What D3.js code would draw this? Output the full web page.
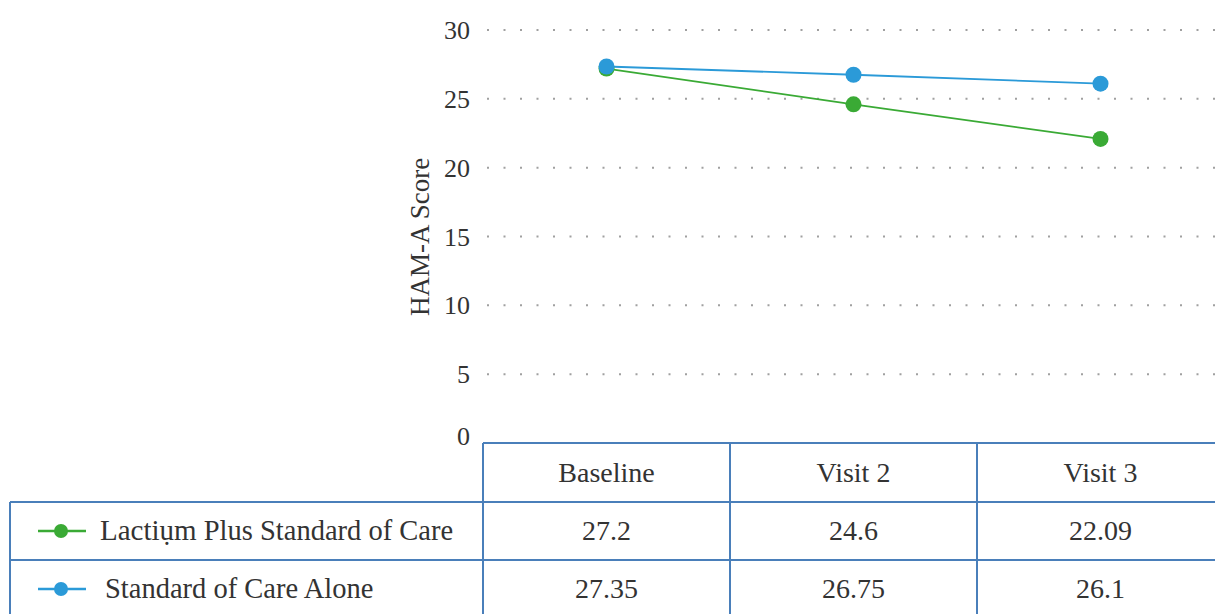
<!DOCTYPE html>
<html>
<head>
<meta charset="utf-8">
<script src="https://cdn.jsdelivr.net/npm/d3@7"></script>
<style>
  html, body { margin: 0; padding: 0; background: #fff; }
  svg { display: block; }
</style>
</head>
<body>
<svg id="chart" width="1215" height="614"></svg>
<script>
// Visits on the x axis
const visits = ["Baseline", "Visit 2", "Visit 3"];
// Series names and mean HAM-A scores per visit
const seriesNames = ["Lactiụm Plus Standard of Care", "Standard of Care Alone"];
const lactiumValues = [27.2, 24.6, 22.09];
const socValues = [27.35, 26.75, 26.1];
const valueLabels = [["27.2", "24.6", "22.09"], ["27.35", "26.75", "26.1"]];
const yTicks = [0, 5, 10, 15, 20, 25, 30];

const colors = ["#3aaa35", "#2b9ad8"];
const series = [lactiumValues, socValues];
const SERIF = "Liberation Serif, DejaVu Serif, serif";
const ink = "#333";

const svg = d3.select("#chart").attr("font-family", SERIF);
const W = 1215, H = 614;

const plotLeft = 483, colW = 247;
const x = d3.scaleBand().domain(visits).range([plotLeft, plotLeft + colW * visits.length]);
const y = d3.scaleLinear().domain([0, 30]).range([443, 30]);

// dotted horizontal gridlines
svg.append("g").selectAll("line")
  .data(yTicks.filter(d => d > 0))
  .join("line")
  .attr("x1", plotLeft + 4).attr("x2", W)
  .attr("y1", d => y(d)).attr("y2", d => y(d))
  .attr("stroke", "#a0a0a0").attr("stroke-width", 2)
  .attr("stroke-dasharray", "2,14.5");

// y axis labels
const yAxis = d3.axisLeft(y).tickValues(yTicks).tickSize(0).tickPadding(0);
const ya = svg.append("g").attr("transform", `translate(${plotLeft - 13},0)`).call(yAxis);
ya.attr("font-family", SERIF).attr("font-size", 26);
ya.select(".domain").remove();
ya.selectAll("text").attr("fill", ink).attr("dy", "0.33em");
ya.selectAll(".tick").filter(d => d === 0).select("text").attr("dy", "0.05em");

svg.append("text")
  .attr("transform", `translate(${429},${237}) rotate(-90)`)
  .attr("text-anchor", "middle")
  .attr("font-family", SERIF)
  .attr("font-size", 27).attr("fill", ink)
  .text("HAM-A Score");

// lines and markers
const line = d3.line().x((d, i) => x(visits[i]) + x.bandwidth() / 2).y(d => y(d));
series.forEach((vals, s) => {
  svg.append("path").datum(vals)
    .attr("d", line).attr("fill", "none")
    .attr("stroke", colors[s]).attr("stroke-width", 1.8);
});
series.forEach((vals, s) => {
  svg.append("g").selectAll("circle").data(vals).join("circle")
    .attr("cx", (d, i) => x(visits[i]) + x.bandwidth() / 2)
    .attr("cy", d => y(d))
    .attr("r", 8)
    .attr("fill", colors[s]);
});

// data table below the plot
const border = "#4a7fba";
const rowTop = [443, 502, 560];
const rowH = 58;
const tbl = svg.append("g").attr("font-family", SERIF).attr("font-size", 28).attr("fill", ink);
const legendLeft = 10;

// horizontal rules
tbl.append("line").attr("x1", plotLeft).attr("x2", W).attr("y1", rowTop[0]).attr("y2", rowTop[0])
  .attr("stroke", border).attr("stroke-width", 2);
[rowTop[1], rowTop[2]].forEach(yy => {
  tbl.append("line").attr("x1", legendLeft).attr("x2", W).attr("y1", yy).attr("y2", yy)
    .attr("stroke", border).attr("stroke-width", 2);
});
// vertical rules
visits.forEach(v => {
  tbl.append("line").attr("x1", x(v)).attr("x2", x(v)).attr("y1", rowTop[0]).attr("y2", H)
    .attr("stroke", border).attr("stroke-width", 2);
});
tbl.append("line").attr("x1", legendLeft).attr("x2", legendLeft).attr("y1", rowTop[1]).attr("y2", H)
  .attr("stroke", border).attr("stroke-width", 2);

// header cells
tbl.selectAll("text.head").data(visits).join("text")
  .attr("class", "head")
  .attr("x", d => x(d) + x.bandwidth() / 2)
  .attr("y", rowTop[0] + rowH / 2 + 10)
  .attr("text-anchor", "middle")
  .text(d => d);

// value cells and legend keys
seriesNames.forEach((name, s) => {
  const cy = rowTop[s + 1] + rowH / 2;
  tbl.selectAll(`text.v${s}`).data(valueLabels[s]).join("text")
    .attr("class", `v${s}`)
    .attr("x", (d, i) => x(visits[i]) + x.bandwidth() / 2)
    .attr("y", cy + 9)
    .attr("text-anchor", "middle")
    .text(d => d);

  tbl.append("line").attr("x1", 38).attr("x2", 86).attr("y1", cy).attr("y2", cy)
    .attr("stroke", colors[s]).attr("stroke-width", 2.5);
  tbl.append("circle").attr("cx", 61).attr("cy", cy).attr("r", 7).attr("fill", colors[s]);

  const t = tbl.append("text")
    .attr("x", s === 0 ? 100 : 105).attr("y", cy + 9)
    .attr("font-size", 28.5);
  if (s === 0) {
    const parts = name.split(" ");
    t.append("tspan").attr("font-size", 29).text(parts[0]);
    t.append("tspan").text(" " + parts.slice(1).join(" "));
  } else {
    t.text(name);
  }
});
</script>
</body>
</html>
